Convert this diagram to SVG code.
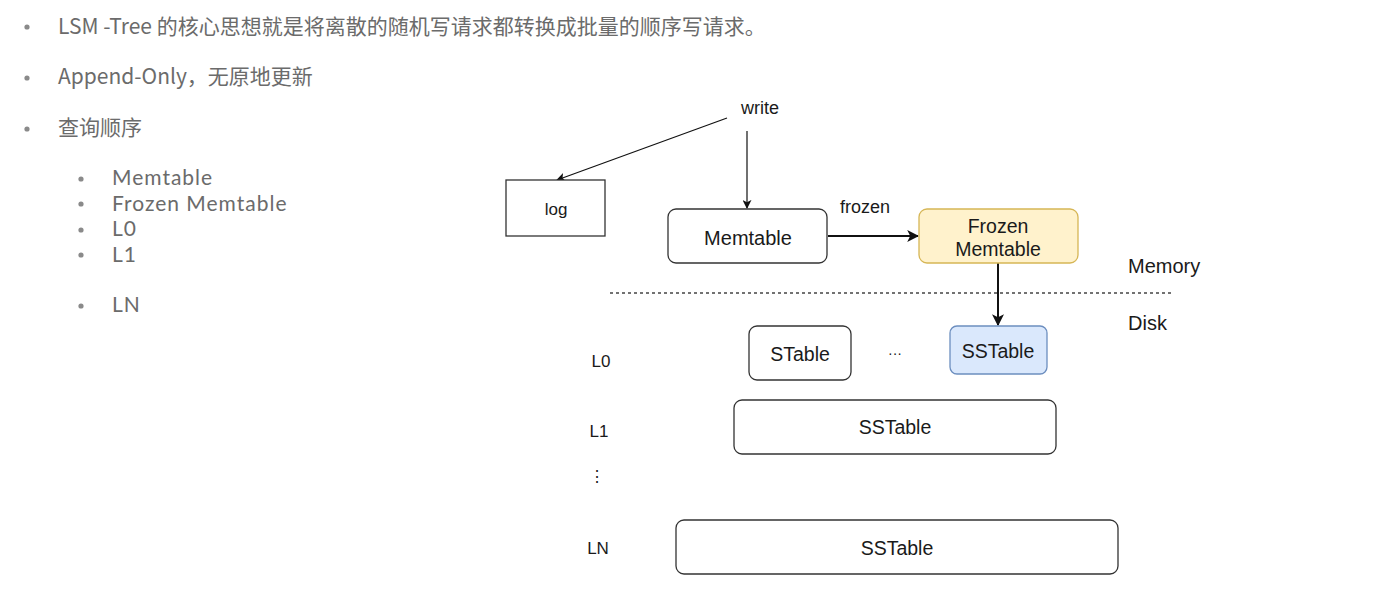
<svg xmlns="http://www.w3.org/2000/svg" width="1400" height="598" viewBox="0 0 1400 598">
<defs>
<style>
.bt{font-family:"Noto Sans CJK SC","Noto Sans",sans-serif;font-size:21px;fill:#6b6b6b}
.st{font-family:Lato,"Noto Sans",sans-serif;font-size:21px;fill:#6b6b6b;letter-spacing:1px}
.dot{fill:#8a8a8a}
.t{font-family:"Liberation Sans",Arial,sans-serif;fill:#1a1a1a;text-anchor:middle}
.box{fill:#ffffff;stroke:#333333;stroke-width:1.3}
.ln{stroke:#111111;fill:none}
</style>
<marker id="ah" viewBox="0 0 10 10" refX="9" refY="5" markerWidth="9" markerHeight="9" markerUnits="userSpaceOnUse" orient="auto">
<path d="M0,0 L10,5 L0,10 L2.5,5 Z" fill="#111"/>
</marker>
<marker id="ah2" viewBox="0 0 10 10" refX="9" refY="5" markerWidth="12" markerHeight="12" markerUnits="userSpaceOnUse" orient="auto">
<path d="M0,0 L10,5 L0,10 L2.5,5 Z" fill="#111"/>
</marker>
</defs>
<rect width="1400" height="598" fill="#ffffff"/>
<g id="bullets">
<circle class="dot" cx="27" cy="27" r="2.6"/>
<text class="bt" x="58" y="34">LSM -Tree 的核心思想就是将离散的随机写请求都转换成批量的顺序写请求。</text>
<circle class="dot" cx="27" cy="78" r="2.6"/>
<text class="bt" x="58" y="84">Append-Only，无原地更新</text>
<circle class="dot" cx="27" cy="129" r="2.6"/>
<text class="bt" x="58" y="135">查询顺序</text>
<circle class="dot" cx="81" cy="179" r="2.6"/>
<text class="st" x="112" y="185">Memtable</text>
<circle class="dot" cx="81" cy="204" r="2.6"/>
<text class="st" x="112" y="211">Frozen Memtable</text>
<circle class="dot" cx="81" cy="230" r="2.6"/>
<text class="st" x="112" y="236">L0</text>
<circle class="dot" cx="81" cy="255" r="2.6"/>
<text class="st" x="112" y="262">L1</text>
<circle class="dot" cx="81" cy="306" r="2.6"/>
<text class="st" x="112" y="312">LN</text>
</g>
<g id="connectors">
<line class="ln" x1="727" y1="118" x2="557" y2="180" stroke-width="1.2" marker-end="url(#ah)"/>
<line class="ln" x1="747" y1="131" x2="747" y2="208" stroke-width="1.2" marker-end="url(#ah)"/>
<line class="ln" x1="828" y1="236" x2="918" y2="236" stroke-width="2" marker-end="url(#ah2)"/>
<line class="ln" x1="998" y1="263" x2="998" y2="325" stroke-width="2" marker-end="url(#ah2)"/>
<line x1="610" y1="293" x2="1173" y2="293" stroke="#444" stroke-width="1.3" stroke-dasharray="3,3"/>
</g>
<g id="write"><text class="t" x="760" y="114" font-size="18">write</text></g>
<g id="log"><rect x="506" y="180" width="99" height="56" fill="#fff" stroke="#333" stroke-width="1.3"/><text class="t" x="556" y="215" font-size="17">log</text></g>
<g id="memtable"><rect class="box" x="668" y="209" width="159" height="54" rx="8"/><text class="t" x="748" y="245" font-size="20">Memtable</text></g>
<g id="frozen-label"><text class="t" x="865" y="213" font-size="18">frozen</text></g>
<g id="frozen-memtable"><rect x="919" y="209" width="159" height="54" rx="8" fill="#fff2cc" stroke="#d6b656" stroke-width="1.3"/><text class="t" x="998" y="233" font-size="19.5">Frozen</text><text class="t" x="998" y="256" font-size="19.5">Memtable</text></g>
<g id="memory"><text x="1128" y="273" font-family="Liberation Sans, Arial, sans-serif" font-size="20" fill="#1a1a1a">Memory</text></g>
<g id="disk"><text x="1128" y="330" font-family="Liberation Sans, Arial, sans-serif" font-size="20" fill="#1a1a1a">Disk</text></g>
<g id="l0"><text class="t" x="601" y="367" font-size="17">L0</text></g>
<g id="stable"><rect class="box" x="749" y="326" width="102" height="54" rx="8"/><text class="t" x="800" y="361" font-size="19.5">STable</text></g>
<g id="ellipsis"><text class="t" x="895" y="358" font-size="14">···</text></g>
<g id="sstable-l0"><rect x="950" y="326" width="97" height="48" rx="7" fill="#dae8fc" stroke="#6c8ebf" stroke-width="1.3"/><text class="t" x="998" y="358" font-size="19.5">SSTable</text></g>
<g id="l1"><text class="t" x="599" y="437" font-size="17">L1</text></g>
<g id="sstable-l1"><rect class="box" x="734" y="400" width="322" height="54" rx="8"/><text class="t" x="895" y="434" font-size="19.5">SSTable</text></g>
<g id="vdots"><text class="t" x="597" y="482" font-size="16">⋮</text></g>
<g id="ln"><text class="t" x="598" y="554" font-size="17">LN</text></g>
<g id="sstable-ln"><rect class="box" x="676" y="520" width="442" height="54" rx="8"/><text class="t" x="897" y="555" font-size="19.5">SSTable</text></g>
</svg>
